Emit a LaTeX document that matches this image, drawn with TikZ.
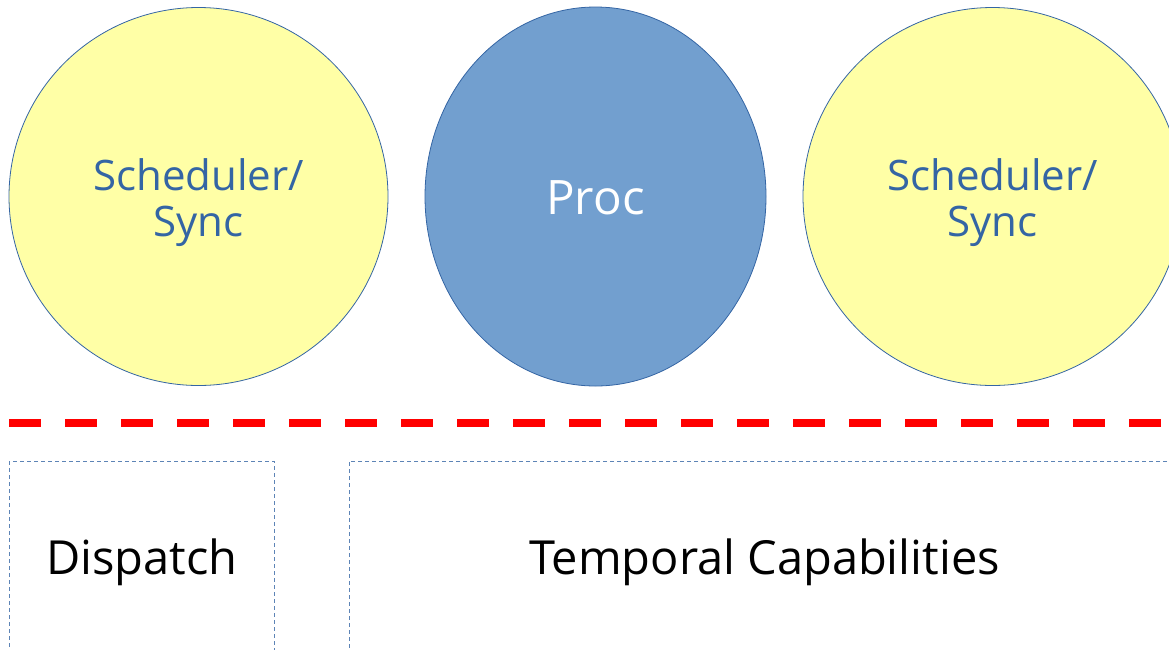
\documentclass[tikz,border=0pt]{standalone}
\usepackage{fontspec}
\setmainfont{Open Sans}
\usetikzlibrary{shapes.geometric}
\definecolor{paleyellow}{HTML}{FFFFA6}
\definecolor{skyblue}{HTML}{729FCF}
\definecolor{deepblue}{HTML}{3465A4}
\definecolor{cutred}{HTML}{FF0000}
\tikzset{
  blob/.style={ellipse, draw=deepblue, line width=0.8pt, inner sep=0pt},
  syncblob/.style={blob, fill=paleyellow, minimum width=379pt, minimum height=378pt},
  procblob/.style={blob, fill=skyblue, minimum width=341pt, minimum height=379pt},
  synctext/.style={align=center, text=deepblue, font=\fontsize{42}{46}\selectfont, yshift=-6pt, inner sep=0pt},
  proctext/.style={text=white, font=\fontsize{47.5}{50}\selectfont, yshift=-1.5pt, inner sep=0pt},
  layerbox/.style={draw=deepblue!80, line width=1pt, dash pattern=on 4pt off 3pt, inner sep=0pt},
  layertext/.style={text=black, font=\fontsize{47}{50}\selectfont, yshift=-5pt, inner sep=0pt},
  boundary/.style={draw=cutred, line width=8pt, dash pattern=on 32pt off 24pt},
}
\begin{document}
\begin{tikzpicture}[x=1pt, y=-1pt]
  \useasboundingbox (0,0) rectangle (1169,649);
  \clip (0,0) rectangle (1169,649);
  \fill[white] (0,0) rectangle (1169,649);

  % upper layer: scheduler, process, scheduler
  \node[syncblob, label={[synctext]center:{Scheduler/\\Sync}}] (schedA) at (198.5,196.5) {};
  \node[procblob, label={[proctext]center:Proc}] (proc) at (595.5,196.5) {};
  \node[syncblob, label={[synctext]center:{Scheduler/\\Sync}}] (schedB) at (992.5,196.5) {};

  % boundary between the layers
  \coordinate (cutL) at (9,423);
  \coordinate (cutR) at (1200,423);
  \draw[boundary] (cutL) -- (cutR);

  % lower layer: kernel mechanisms
  \node[layerbox, minimum width=264.5pt, minimum height=192pt,
        label={[layertext]center:Dispatch}] (dispatch) at (141.75,557) {};
  \node[layerbox, minimum width=831pt, minimum height=192pt,
        label={[layertext]center:Temporal Capabilities}] (temporal) at (764.5,557) {};
\end{tikzpicture}
\end{document}
